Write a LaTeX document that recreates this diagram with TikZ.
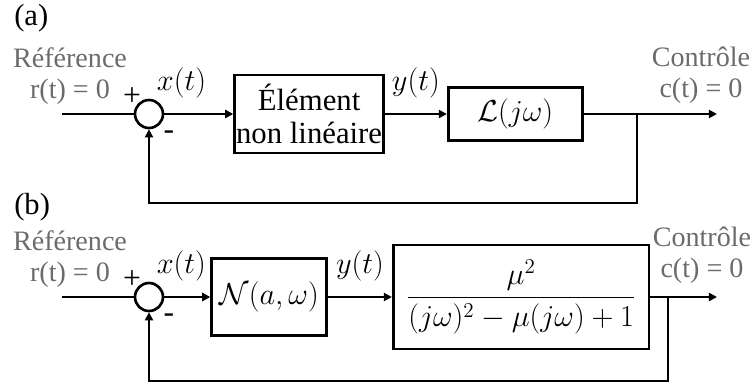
\documentclass[tikz,border=0pt]{standalone}
\usepackage{amsmath,amssymb}
\usepackage{fontspec}
\setmainfont{Liberation Serif}
\usepackage{tikz}
\usetikzlibrary{positioning,arrows.meta,calc}
\definecolor{lblgray}{gray}{0.42}

\begin{document}
\begin{tikzpicture}[
    x=0.02cm, y=-0.02cm,
    line width=1.5pt,
    box/.style={draw, rectangle, inner sep=0pt, align=center, font=\fontsize{17.5}{19}\selectfont},
    sumnode/.style={draw, circle, minimum size=0.56cm, inner sep=0pt},
    sig/.style={font=\fontsize{16.5}{18}\selectfont, inner sep=0pt},
    io/.style={align=center, text=lblgray, font=\fontsize{16}{17.5}\selectfont, inner sep=0pt, anchor=south},
    pm/.style={font=\fontsize{18}{19}\selectfont, inner sep=0pt},
    tag/.style={font=\fontsize{17.4}{19}\selectfont, inner sep=0pt, anchor=west},
    arr/.style={-{Triangle[length=4.6pt,width=4.6pt]}}
]
\useasboundingbox (0,0) rectangle (755,383);

% (a) nonlinear element + linear part
\node[tag] (taga) at (13,18) {(a)};
\node[sumnode] (suma) at (149,114) {};
\coordinate (ina) at (62,114);
\node[box, minimum width=2.98cm, minimum height=1.56cm, right=1.38cm of suma] (nla) {Élément\\non linéaire};
\node[box, minimum width=2.68cm, minimum height=1.06cm, right=1.24cm of nla] (lina) {$\mathcal{L}(j\omega)$};
\coordinate (bra) at (637,114);
\coordinate (outa) at (717,114);
\coordinate (fba) at (637,203);

\node[io] (refa) at (70,106) {Référence\\r(t) = 0};
\node[io] (cona) at (701,105) {Contrôle\\c(t) = 0};
\node[pm] (pa) at ($(suma)+(-17,-17)$) {+};
\node[pm] (ma) at ($(suma)+(20,21)$) {-};

\draw (ina) -- (suma);
\draw[arr] (suma) -- (nla) node[sig, pos=0.25, above=0.3cm] {$x(t)$};
\draw[arr] (nla) -- (lina) node[sig, midway, above=0.3cm] {$y(t)$};
\draw[arr] (lina) -- (outa);
\draw[arr] (bra) -- (fba) -| (suma);

% (b) describing function + Van der Pol
\node[tag] (tagb) at (13,207) {(b)};
\node[sumnode] (sumb) at (149,297) {};
\coordinate (inb) at (62,297);
\node[box, minimum width=2.3cm, minimum height=1.54cm, right=0.92cm of sumb] (nlb) {$\mathcal{N}(a,\omega)$};
\node[box, minimum width=5.12cm, minimum height=2.08cm, right=1.28cm of nlb, font=\fontsize{18.6}{20}\selectfont] (linb) {$\dfrac{\mu^2}{(j\omega)^2-\mu(j\omega)+1}$};
\coordinate (brb) at (668,297);
\coordinate (outb) at (717,297);
\coordinate (fbb) at (668,381);

\node[io] (refb) at (70,289) {Référence\\r(t) = 0};
\node[io] (conb) at (702,285) {Contrôle\\c(t) = 0};
\node[pm] (pb) at ($(sumb)+(-17,-17)$) {+};
\node[pm] (mb) at ($(sumb)+(20,21)$) {-};

\draw (inb) -- (sumb);
\draw[arr] (sumb) -- (nlb) node[sig, pos=0.37, above=0.3cm] {$x(t)$};
\draw[arr] (nlb) -- (linb) node[sig, midway, above=0.3cm] {$y(t)$};
\draw[arr] (linb) -- (outb);
\draw[arr] (brb) -- (fbb) -| (sumb);
\end{tikzpicture}
\end{document}
